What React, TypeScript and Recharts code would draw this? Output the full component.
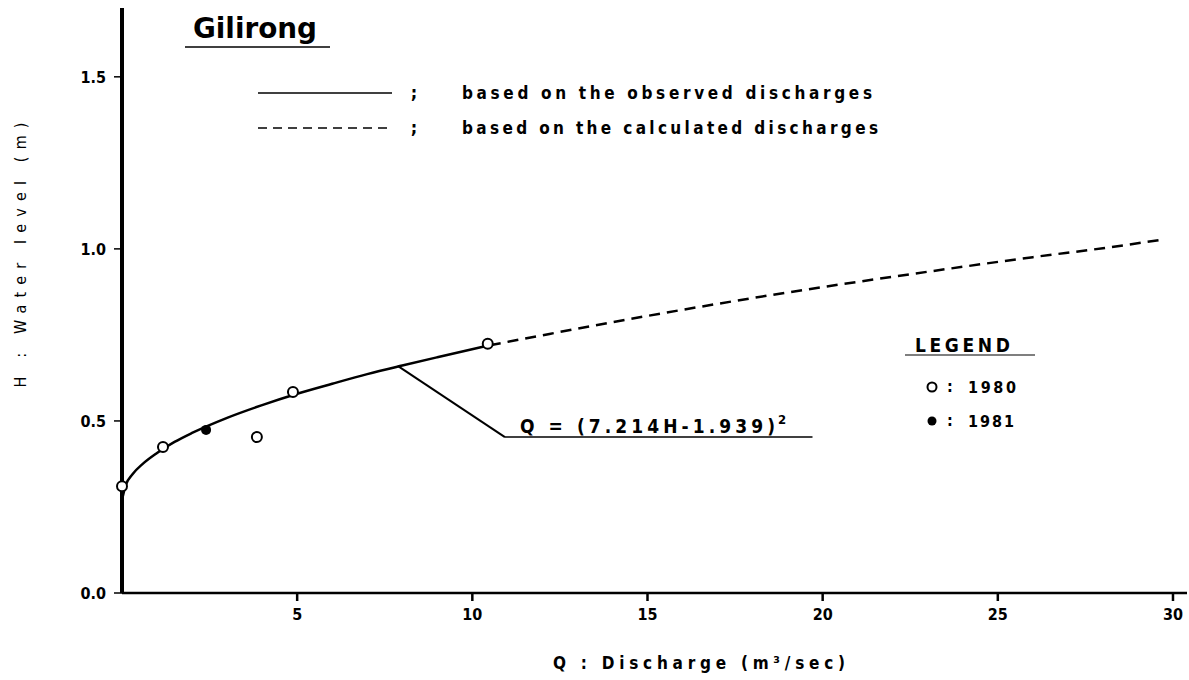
import React from "react";
import { ComposedChart, Line, Scatter, XAxis, YAxis, ReferenceLine } from "recharts";

// Rating curve (Q in m3/sec, H in m)
const observedQ = [0, 0.1, 0.3, 0.6, 1.0, 1.5, 2.0, 3.0, 4.0, 5.0, 6.0, 7.0, 8.0, 9.0, 10.5];
const observedH = [0.27, 0.312, 0.345, 0.376, 0.407, 0.439, 0.465, 0.509, 0.546, 0.579, 0.608, 0.636, 0.661, 0.685, 0.72];
const calculatedQ = [10.5, 12, 14, 16, 18, 20, 22, 24, 26, 28, 29.7];
const calculatedH = [0.72, 0.749, 0.787, 0.823, 0.857, 0.889, 0.919, 0.948, 0.976, 1.002, 1.027];

// Gauged points
const points1980Q = [0, 1.17, 3.85, 4.88, 10.44];
const points1980H = [0.31, 0.424, 0.453, 0.584, 0.724];
const points1981Q = [2.4];
const points1981H = [0.474];

// Leader from the curve to the formula underline
const leaderQ = [7.87, 10.93, 19.71];
const leaderH = [0.66, 0.453, 0.453];

const xTicks = [5, 10, 15, 20, 25, 30];
const yTicks = [0, 0.5, 1.0, 1.5];

const INK = "#000";
const FONT = "'DejaVu Sans Condensed', 'DejaVu Sans', Arial, sans-serif";
const W = 1189;
const H = 680;

const zip = (qs: number[], hs: number[]) => qs.map((q, i) => ({ q, h: hs[i] }));
const observed = zip(observedQ, observedH);
const calculated = zip(calculatedQ, calculatedH);
const pts1980 = zip(points1980Q, points1980H);
const pts1981 = zip(points1981Q, points1981H);

/* eslint-disable @typescript-eslint/no-explicit-any */
function OpenCircle(props: any) {
  const { cx, cy } = props;
  return <circle cx={cx} cy={cy} r={5} fill="#fff" stroke={INK} strokeWidth={2} />;
}

function FilledCircle(props: any) {
  const { cx, cy } = props;
  return <circle cx={cx} cy={cy} r={5} fill={INK} />;
}

const tickStyle = { fill: INK, fontSize: 16, fontWeight: 700, fontFamily: FONT };

function Annotations() {
  const txt = { fontFamily: FONT, fontWeight: 700, fill: INK } as const;
  return (
    <svg
      width={W}
      height={H}
      style={{ position: "absolute", left: 0, top: 0, pointerEvents: "none" }}
    >
      {/* title */}
      <text x={193} y={38} fontSize={28} textLength={124} lengthAdjust="spacingAndGlyphs" {...txt}>
        Gilirong
      </text>
      <line x1={185} y1={47} x2={330} y2={47} stroke={INK} strokeWidth={1.5} />

      {/* line legend */}
      <line x1={258} y1={93} x2={392} y2={93} stroke={INK} strokeWidth={1.5} />
      <line x1={258} y1={128} x2={392} y2={128} stroke={INK} strokeWidth={1.5} strokeDasharray="9 6" />
      <text x={414} y={99} fontSize={18} textAnchor="middle" {...txt}>;</text>
      <text x={414} y={134} fontSize={18} textAnchor="middle" {...txt}>;</text>
      <text x={462} y={99} fontSize={17} textLength={410} lengthAdjust="spacing" {...txt}>
        based on the observed discharges
      </text>
      <text x={462} y={134} fontSize={17} textLength={416} lengthAdjust="spacing" {...txt}>
        based on the calculated discharges
      </text>

      {/* formula */}
      <text x={520} y={433} fontSize={19} textLength={255} lengthAdjust="spacing" {...txt}>
        Q = (7.214H-1.939)
      </text>
      <text x={778} y={424} fontSize={13} {...txt}>2</text>

      {/* symbol legend */}
      <text x={915} y={352} fontSize={19} textLength={95} lengthAdjust="spacing" {...txt}>
        LEGEND
      </text>
      <line x1={905} y1={355} x2={1035} y2={355} stroke={INK} strokeWidth={1.2} />
      <circle cx={932} cy={387} r={4.5} fill="#fff" stroke={INK} strokeWidth={2} />
      <text x={950} y={392} fontSize={16} textAnchor="middle" {...txt}>:</text>
      <text x={968} y={393} fontSize={16} textLength={48} lengthAdjust="spacing" {...txt}>1980</text>
      <circle cx={932} cy={421} r={4.5} fill={INK} />
      <text x={950} y={426} fontSize={16} textAnchor="middle" {...txt}>:</text>
      <text x={968} y={427} fontSize={16} textLength={46} lengthAdjust="spacing" {...txt}>1981</text>

      {/* axis titles */}
      <text
        transform="translate(26,255) rotate(-90)"
        textAnchor="middle"
        fontSize={16}
        textLength={265}
        lengthAdjust="spacing"
        {...txt}
        fontWeight={400}
      >
        H : Water level (m)
      </text>
      <text x={699} y={669} textAnchor="middle" fontSize={17} textLength={292} lengthAdjust="spacing" {...txt}>
        Q : Discharge (m³/sec)
      </text>
    </svg>
  );
}

export default function App() {
  return (
    <div style={{ position: "absolute", left: 0, top: 0, width: W, height: H, background: "#fff" }}>
      <ComposedChart
        width={W}
        height={H}
        margin={{ top: 8, right: 2, bottom: 57, left: 62 }}
      >
        <XAxis
          type="number"
          dataKey="q"
          domain={[0, 30.4]}
          ticks={xTicks}
          height={30}
          axisLine={{ stroke: INK, strokeWidth: 2.5 }}
          tickLine={{ stroke: INK, strokeWidth: 2.5 }}
          tickSize={8}
          tickMargin={8}
          tick={tickStyle}
        />
        <YAxis
          type="number"
          dataKey="h"
          domain={[0, 1.7]}
          ticks={yTicks}
          width={60}
          axisLine={{ stroke: INK, strokeWidth: 4 }}
          tickLine={{ stroke: INK, strokeWidth: 1.5 }}
          tickSize={8}
          tickMargin={8}
          tick={tickStyle}
          tickFormatter={(v: number) => v.toFixed(1)}
        />
        <ReferenceLine
          segment={[
            { x: leaderQ[0], y: leaderH[0] },
            { x: leaderQ[1], y: leaderH[1] },
          ]}
          stroke={INK}
          strokeWidth={2}
        />
        <ReferenceLine
          segment={[
            { x: leaderQ[1], y: leaderH[1] },
            { x: leaderQ[2], y: leaderH[2] },
          ]}
          stroke={INK}
          strokeWidth={1.5}
        />
        <Line
          data={observed}
          dataKey="h"
          type="monotone"
          stroke={INK}
          strokeWidth={2.5}
          dot={false}
          isAnimationActive={false}
        />
        <Line
          data={calculated}
          dataKey="h"
          type="monotone"
          stroke={INK}
          strokeWidth={2.5}
          strokeDasharray="11 7"
          dot={false}
          isAnimationActive={false}
        />
        <Scatter data={pts1980} dataKey="h" shape={OpenCircle} isAnimationActive={false} />
        <Scatter data={pts1981} dataKey="h" shape={FilledCircle} isAnimationActive={false} />
      </ComposedChart>
      <Annotations />
    </div>
  );
}
